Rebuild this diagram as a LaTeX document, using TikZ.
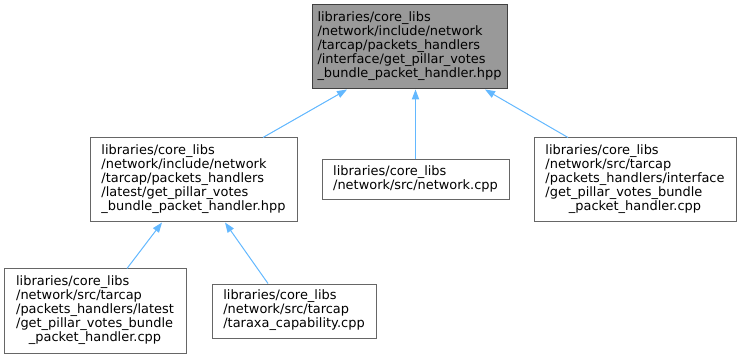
\documentclass[tikz,border=0pt]{standalone}
\usepackage{fontspec}
\setmainfont{DejaVu Sans}
\usetikzlibrary{positioning,calc,arrows.meta}

\definecolor{edgeblue}{HTML}{63B8FF}
\definecolor{boxgray}{HTML}{666666}
\definecolor{rootfill}{HTML}{999999}

\newcommand{\fpath}[1]{\begin{tabular}{@{}l@{}}#1\end{tabular}}
\newcommand{\lastln}[1]{\multicolumn{1}{@{}c@{}}{#1}}

\begin{document}
\begin{tikzpicture}[
    x=0.75pt, y=-0.75pt,
    every node/.style={draw=boxgray, line width=0.75pt, inner sep=0pt, fill=white,
        font=\fontsize{9.7}{10.5}\selectfont},
    root/.style={fill=rootfill, draw=black!75},
    edge/.style={-{Triangle[length=7.5pt, width=5.5pt]}, draw=edgeblue, line width=0.75pt}
]
\useasboundingbox (0,0) rectangle (741,359);

\node[root, minimum width=146.25pt, minimum height=63pt] (top) at (409.5,47)
    {\fpath{libraries/core\_libs\\/network/include/network\\/tarcap/packets\_handlers\\/interface/get\_pillar\_votes\\\lastln{\_bundle\_packet\_handler.hpp}}};

\node[minimum width=140.25pt, minimum height=30pt] (net) [below=52.5pt of top, xshift=4.5pt]
    {\fpath{libraries/core\_libs\\\lastln{/network/src/network.cpp}}};
\node[minimum width=155.25pt, minimum height=63pt] (hdr) [left=18pt of net]
    {\fpath{libraries/core\_libs\\/network/include/network\\/tarcap/packets\_handlers\\/latest/get\_pillar\_votes\\\lastln{\_bundle\_packet\_handler.hpp}}};
\node[minimum width=151.5pt, minimum height=63pt] (iface) [right=18pt of net]
    {\fpath{libraries/core\_libs\\/network/src/tarcap\\/packets\_handlers/interface\\/get\_pillar\_votes\_bundle\\\lastln{\_packet\_handler.cpp}}};

\node[minimum width=136.5pt, minimum height=63pt] (cpp) at (95,311)
    {\fpath{libraries/core\_libs\\/network/src/tarcap\\/packets\_handlers/latest\\/get\_pillar\_votes\_bundle\\\lastln{\_packet\_handler.cpp}}};
\node[minimum width=123pt, minimum height=40.5pt] (cap) [right=18.75pt of cpp]
    {\fpath{libraries/core\_libs\\/network/src/tarcap\\\lastln{/taraxa\_capability.cpp}}};

\draw[edge] ($(hdr.north)+(69.5,0)$) -- ($(top.south)+(-62.5,0)$);
\draw[edge] (net.north) -- (net.north |- top.south);
\draw[edge] ($(iface.north)+(-67,0)$) -- ($(top.south)+(75.5,0)$);
\draw[edge] ($(cpp.north)+(32,0)$) -- ($(hdr.south)+(-31.5,0)$);
\draw[edge] ($(cap.north)+(-26,0)$) -- ($(hdr.south)+(31.5,0)$);

\end{tikzpicture}
\end{document}
